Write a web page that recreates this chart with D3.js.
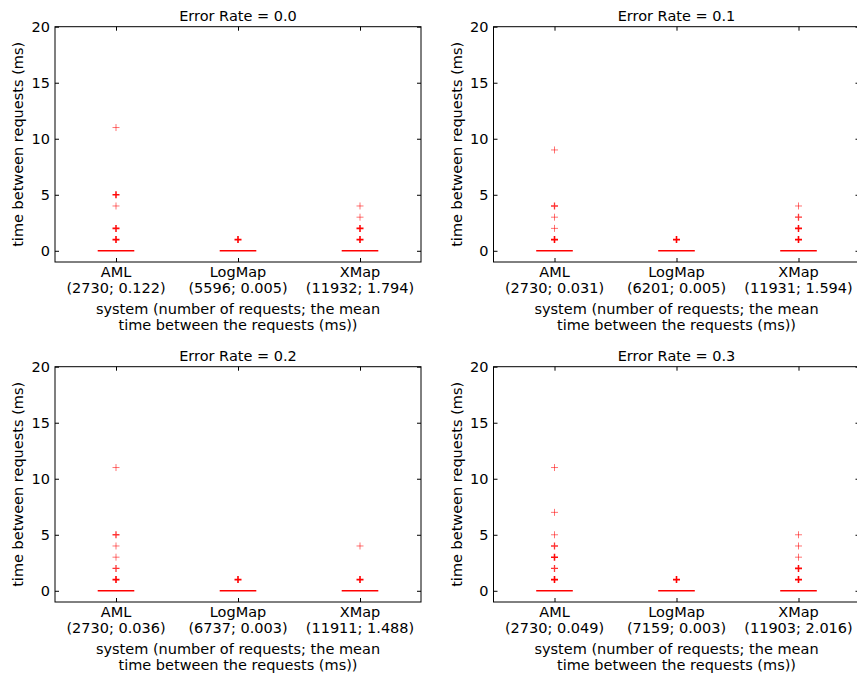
<!DOCTYPE html>
<html>
<head>
    <meta charset="utf-8">
    <title>Time between requests</title>
    <script src="https://d3js.org/d3.v7.min.js"></script>
    <style>
        body { margin: 0; background: #fff; }
        text { font-family: "DejaVu Sans", sans-serif; fill: #000; }
    </style>
</head>
<body>
    <script>
        // data
        var systems = ["AML", "LogMap", "XMap"];
        var errorRates = ["0.0", "0.1", "0.2", "0.3"];
        var requestCounts = [
            [2730, 5596, 11932],
            [2730, 6201, 11931],
            [2730, 6737, 11911],
            [2730, 7159, 11903]
        ];
        var meanTimes = [
            [0.122, 0.005, 1.794],
            [0.031, 0.005, 1.594],
            [0.036, 0.003, 1.488],
            [0.049, 0.003, 2.016]
        ];
        // quartiles / median of every box (all collapsed at 0)
        var boxQ1 = [[0, 0, 0], [0, 0, 0], [0, 0, 0], [0, 0, 0]];
        var boxMedian = [[0, 0, 0], [0, 0, 0], [0, 0, 0], [0, 0, 0]];
        var boxQ3 = [[0, 0, 0], [0, 0, 0], [0, 0, 0], [0, 0, 0]];
        // outliers: [value, estimated number of overlapping points]
        var fliers = [
            [[[11, 1], [5, 4], [4, 1], [2, 4], [1, 10]], [[1, 10]], [[4, 1], [3, 1], [2, 5], [1, 10]]],
            [[[9, 1], [4, 2], [3, 1], [2, 1], [1, 6]], [[1, 10]], [[4, 1], [3, 2], [2, 4], [1, 10]]],
            [[[11, 1], [5, 2], [4, 1], [3, 1], [2, 2], [1, 10]], [[1, 10]], [[4, 1], [1, 10]]],
            [[[11, 1], [7, 1], [5, 1], [4, 2], [3, 4], [2, 2], [1, 10]], [[1, 10]], [[5, 1], [4, 1], [3, 1], [2, 4], [1, 10]]]
        ];
        var yTicks = [0, 5, 10, 15, 20];
        var yDomain = [-1, 20];

        var width = 857, height = 674;
        var panelW = 366, panelH = 235.3;
        var colX = [55, 493.5];
        var rowY = [26.7, 366.7];
        var fs = "14.5px";

        var svg = d3.select("body").append("svg").attr("width", width).attr("height", height);

        errorRates.forEach(function (rate, p) {
            var px = colX[p % 2], py = rowY[Math.floor(p / 2)];
            var g = svg.append("g").attr("transform", "translate(" + px + "," + py + ")");

            var x = d3.scaleLinear().domain([0.5, 3.5]).range([0, panelW]);
            var y = d3.scaleLinear().domain(yDomain).range([panelH, 0]);
            var positions = systems.map(function (s, i) { return i + 1; });

            // ticks on all four sides, pointing inwards
            g.append("g").call(d3.axisLeft(y).tickValues(yTicks).tickSize(-4).tickPadding(5))
                .call(function (a) { a.select(".domain").remove(); a.selectAll("text").attr("font-size", fs).attr("font-family", null); });
            g.append("g").attr("transform", "translate(" + panelW + ",0)")
                .call(d3.axisRight(y).tickValues(yTicks).tickSize(-4).tickFormat(""))
                .call(function (a) { a.select(".domain").remove(); });
            g.append("g").call(d3.axisTop(x).tickValues(positions).tickSize(-4).tickFormat(""))
                .call(function (a) { a.select(".domain").remove(); });
            g.append("g").attr("transform", "translate(0," + panelH + ")")
                .call(d3.axisBottom(x).tickValues(positions).tickSize(-4).tickFormat(""))
                .call(function (a) { a.select(".domain").remove(); });
            g.selectAll(".tick line").attr("stroke", "#000");

            // x tick labels, two lines each
            var lab = g.append("g").selectAll("text").data(systems).enter().append("text")
                .attr("text-anchor", "middle").attr("font-size", fs)
                .attr("transform", function (d, i) { return "translate(" + x(i + 1) + "," + panelH + ")"; });
            lab.append("tspan").attr("x", 0).attr("y", 15).text(function (d) { return d; });
            lab.append("tspan").attr("x", 0).attr("y", 31)
                .text(function (d, i) { return "(" + requestCounts[p][i] + "; " + d3.format(".3f")(meanTimes[p][i]) + ")"; });

            // boxes (collapsed), medians
            var bw = 0.3;
            systems.forEach(function (s, i) {
                var c = i + 1;
                g.append("rect")
                    .attr("x", x(c - bw / 2)).attr("width", x(c + bw / 2) - x(c - bw / 2))
                    .attr("y", y(boxQ3[p][i])).attr("height", Math.max(0, y(boxQ1[p][i]) - y(boxQ3[p][i])))
                    .attr("fill", "none").attr("stroke", "#0000ff").attr("stroke-width", 1);
                g.append("line")
                    .attr("x1", x(c - bw / 2)).attr("x2", x(c + bw / 2))
                    .attr("y1", y(boxMedian[p][i])).attr("y2", y(boxMedian[p][i]))
                    .attr("stroke", "#ff0000").attr("stroke-width", 1.6);

                // outliers as '+'
                g.append("g").selectAll("path").data(fliers[p][i]).enter().append("path")
                    .attr("transform", function (d) { return "translate(" + x(c) + "," + y(d[0]) + ")"; })
                    .attr("d", "M-3.5,0H3.5M0,-3.5V3.5")
                    .attr("fill", "none").attr("stroke", "#ff0000")
                    .attr("stroke-width", function (d) { return 1 + 0.6 * (1 - Math.pow(0.5, d[1] - 1)); })
                    .attr("stroke-opacity", function (d) { return 1 - Math.pow(0.45, d[1]); });
            });

            // frame
            g.append("rect").attr("width", panelW).attr("height", panelH)
                .attr("fill", "none").attr("stroke", "#000").attr("stroke-width", 1);

            // title and axis labels
            g.append("text").attr("x", panelW / 2).attr("y", -5.5).attr("text-anchor", "middle")
                .attr("font-size", fs).text("Error Rate = " + rate);
            g.append("text").attr("transform", "translate(-32," + (panelH / 2) + ") rotate(-90)")
                .attr("text-anchor", "middle").attr("font-size", fs).text("time between requests (ms)");
            var xl = g.append("text").attr("text-anchor", "middle").attr("font-size", fs)
                .attr("transform", "translate(" + (panelW / 2) + "," + panelH + ")");
            xl.append("tspan").attr("x", 0).attr("y", 51.5).text("system (number of requests; the mean");
            xl.append("tspan").attr("x", 0).attr("y", 67.5).text("time between the requests (ms))");
        });
    </script>
</body>
</html>
